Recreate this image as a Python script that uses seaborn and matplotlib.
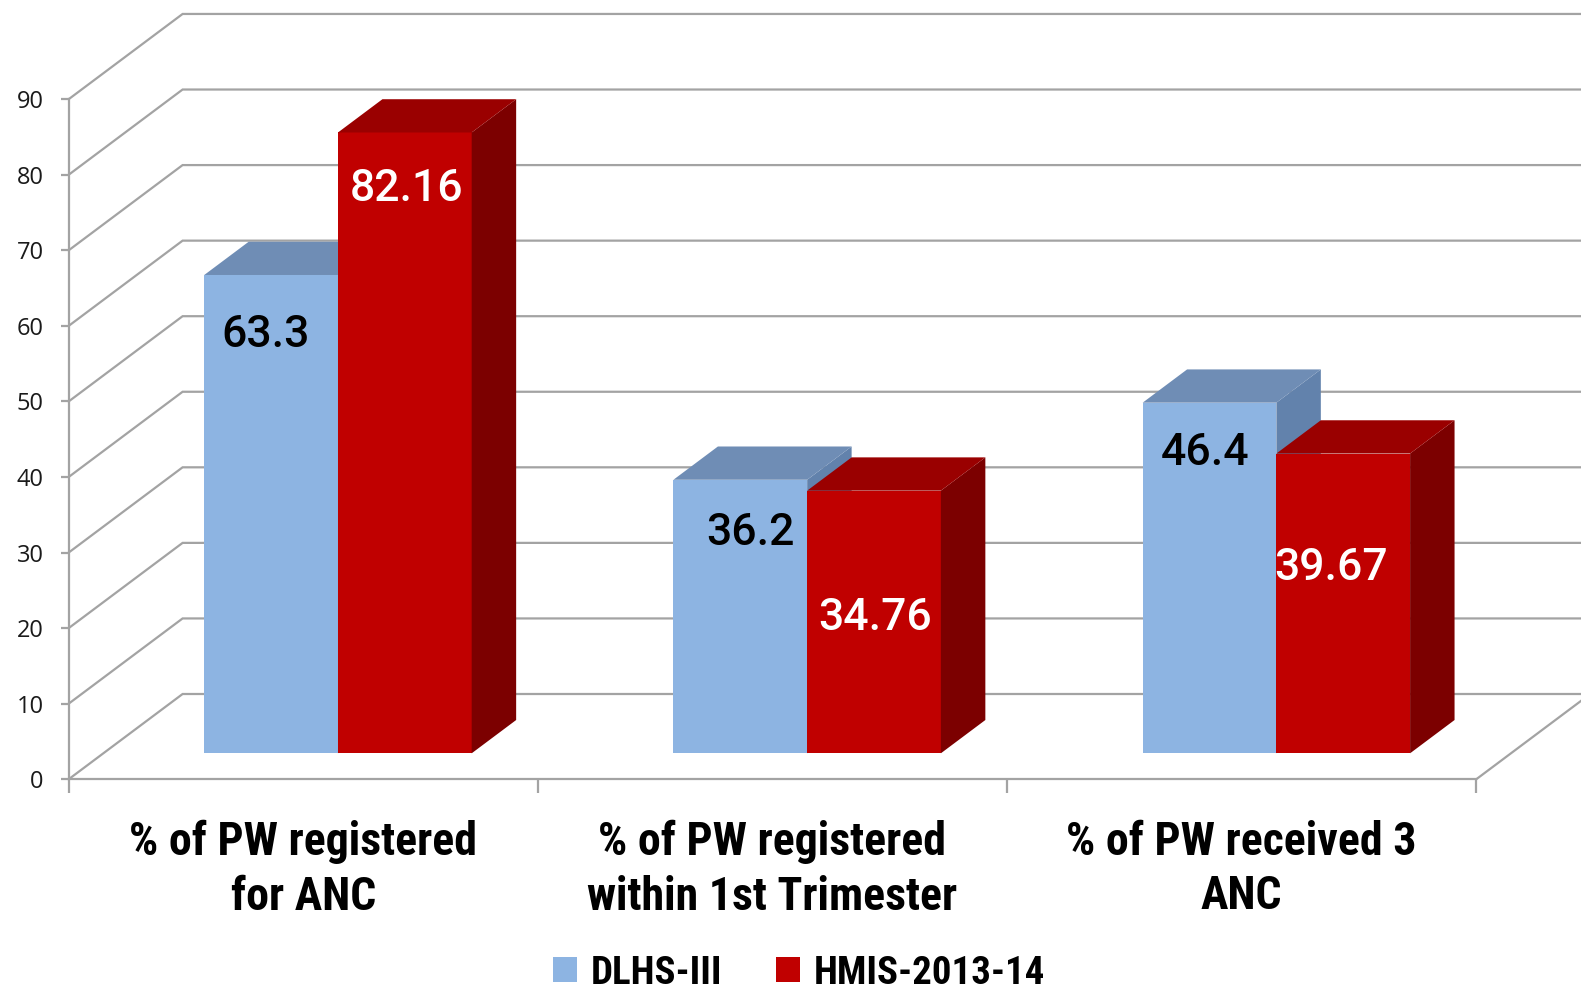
import matplotlib
matplotlib.use("Agg")
import matplotlib.pyplot as plt
from matplotlib.patches import Polygon, Patch
import pandas as pd
import seaborn as sns

# ---------------- data ----------------
categories = ["% of PW registered\nfor ANC",
              "% of PW registered\nwithin 1st Trimester",
              "% of PW received 3\nANC"]
series_names = ["DLHS-III", "HMIS-2013-14"]
dlhs_values = [63.3, 36.2, 46.4]
hmis_values = [82.16, 34.76, 39.67]
y_ticks = [0, 10, 20, 30, 40, 50, 60, 70, 80, 90]

# ---------------- style ----------------
front_colors = ["#8DB4E2", "#C00000"]
top_colors = ["#6F8DB5", "#9A0000"]
side_colors = ["#6282AC", "#7C0000"]
label_colors = ["black", "white"]
label_drop = [[8.0, 7.0, 6.6], [7.5, 16.9, 15.1]]
label_nudge = [[-0.011, 0.021, -0.009], [0.003, 0.002, -0.026]]
grid_color = "#A3A3A3"
NARROW = ["Roboto Condensed", "PT Sans Narrow", "DejaVu Sans"]

sns.set_theme(style="white")

W, H = 1581, 999
fig = plt.figure(figsize=(W / 100, H / 100), dpi=100)
ax = fig.add_axes([0, 0, 1, 1])

px_x, x0px = 469.2, 68.6
px_y, y0px = 7.556, 779.3
xlim = (-0.5 - x0px / px_x, -0.5 + (W - x0px) / px_x)
ylim = (-(H - y0px) / px_y, y0px / px_y)

DX, DY = 114 / px_x, 85.3 / px_y        # full floor depth (oblique)
f_front, f_depth = 0.305, 0.39           # bar position / depth within floor

df = pd.DataFrame({
    "category": categories * 2,
    "series": [series_names[0]] * 3 + [series_names[1]] * 3,
    "value": dlhs_values + hmis_values,
})
sns.barplot(data=df, x="category", y="value", hue="series",
            order=categories, hue_order=series_names,
            palette=front_colors, saturation=1, width=0.57,
            errorbar=None, legend=False, ax=ax, linewidth=0)

ax.set_xlim(*xlim)
ax.set_ylim(*ylim)
ax.set_xlabel("")
ax.set_ylabel("")

# walls / gridlines
for v in y_ticks:
    ax.plot([-0.5, -0.5 + DX, xlim[1] + 0.1], [v, v + DY, v + DY],
            color=grid_color, lw=1.6, zorder=1, solid_joinstyle="miter",
            clip_on=False)
ax.plot([2.5, 2.5 + DX], [0, DY], color=grid_color, lw=1.6, zorder=1)

# 3D bar faces
sx, sy = f_front * DX, f_front * DY
dx, dy = f_depth * DX, f_depth * DY
for s, cont in enumerate(ax.containers):
    for i, bar in enumerate(cont.patches):
        x0 = bar.get_x() + sx
        w = bar.get_width()
        h = bar.get_height()
        bar.set_x(x0)
        bar.set_y(sy)
        bar.set_zorder(3 + s)
        x1 = x0 + w
        y0, y1 = sy, sy + h
        side = Polygon([(x1, y0), (x1, y1), (x1 + dx, y1 + dy), (x1 + dx, y0 + dy)],
                       closed=True, facecolor=side_colors[s], edgecolor="none",
                       zorder=3 + s)
        top = Polygon([(x0, y1), (x1, y1), (x1 + dx, y1 + dy), (x0 + dx, y1 + dy)],
                      closed=True, facecolor=top_colors[s], edgecolor="none",
                      zorder=3 + s)
        ax.add_patch(side)
        ax.add_patch(top)
        ax.text(x0 + w / 2 + label_nudge[s][i], y1 - label_drop[s][i],
                f"{h:g}", ha="center", va="center", color=label_colors[s],
                fontsize=32, fontweight="medium", family=["Roboto", "DejaVu Sans"],
                zorder=10)

# axes spines and ticks
for sp in ["top", "right"]:
    ax.spines[sp].set_visible(False)
ax.spines["left"].set_position(("data", -0.5))
ax.spines["left"].set_bounds(0, 90)
ax.spines["bottom"].set_position(("data", 0))
ax.spines["bottom"].set_bounds(-0.5, 2.5)
for sp in ["left", "bottom"]:
    ax.spines[sp].set_color(grid_color)
    ax.spines[sp].set_linewidth(1.6)
    ax.spines[sp].set_zorder(2)

ax.set_xticks([-0.5, 0.5, 1.5, 2.5])
ax.set_xticklabels([])
ax.tick_params(axis="x", direction="out", length=10, width=1.6,
               color=grid_color, bottom=True)
ax.set_yticks(y_ticks)
ax.set_yticklabels([str(t) for t in y_ticks])
ax.tick_params(axis="y", direction="out", length=5.5, width=1.6,
               color=grid_color, pad=12.5, left=True, labelsize=17,
               labelcolor="#1a1a1a")
for lbl in ax.get_yticklabels():
    lbl.set_family(["Open Sans", "DejaVu Sans"])

# category labels
for i, cat in enumerate(categories):
    ax.text(i, -11.9, cat, ha="center", va="center", multialignment="center",
            fontsize=33, fontweight="bold", family=NARROW, linespacing=1.3,
            color="black")

# legend
handles = [Patch(facecolor=c, edgecolor="none") for c in front_colors]
leg = fig.legend(handles, series_names, loc="center", bbox_to_anchor=(0.5054, 0.026),
                 ncol=2, frameon=False,
                 prop=dict(family=NARROW, weight="bold", size=28),
                 handlelength=0.6, handleheight=0.6, handletextpad=0.35,
                 columnspacing=1.4)
for t in leg.get_texts():
    t.set_color("black")

fig.patch.set_facecolor("white")
ax.set_facecolor("white")
fig.savefig("out.png", dpi=100)
